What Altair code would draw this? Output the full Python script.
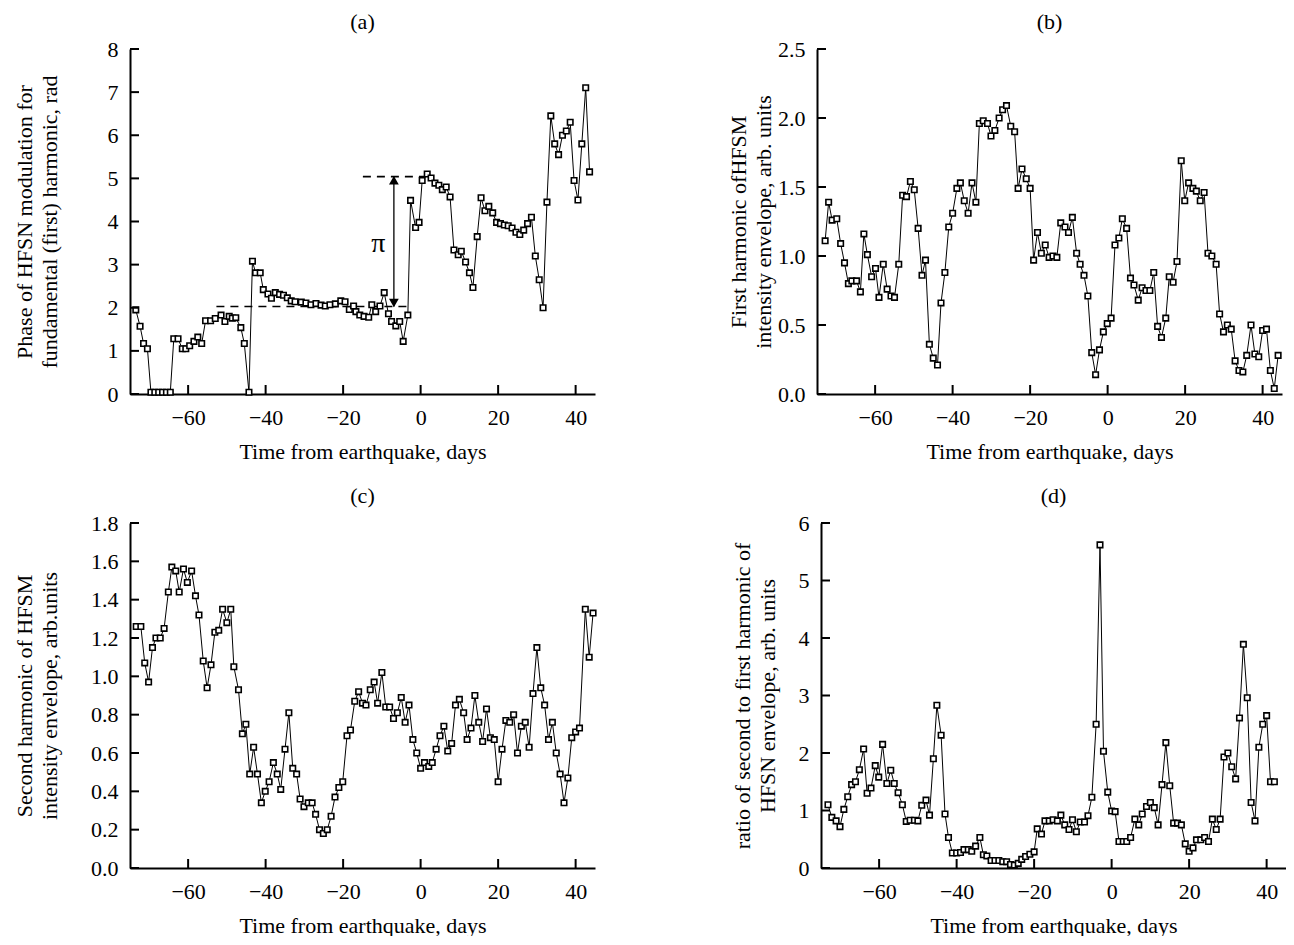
import altair as alt
import pandas as pd

FONT = "Liberation Serif"
FS = 22

X_TICKS = [-60, -40, -20, 0, 20, 40]
X_DOMAIN = [-75, 45]

# ---------------- (a) phase ----------------
a_day = [-73.5, -72.4, -71.5, -70.5, -69.6, -68.6, -67.6, -66.6, -65.6, -64.6,
         -63.7, -62.6, -61.5, -60.6, -59.6, -58.5, -57.5, -56.5, -55.5, -54.2,
         -53.0, -51.5, -50.5, -49.4, -48.6, -47.7, -46.4, -45.5, -44.3, -43.4,
         -42.6, -41.4, -40.6, -39.4, -38.5, -37.5, -36.4, -35.4, -34.4, -33.4,
         -32.4, -30.8, -29.6, -28.3, -27.0, -25.7, -24.6, -23.4, -22.0, -20.6,
         -19.5, -18.4, -17.3, -16.7, -15.7, -14.6, -13.4, -12.6, -11.6, -10.5,
         -9.4, -8.3, -7.5, -6.4, -5.4, -4.5, -3.3, -2.6, -1.3, -0.4,
         0.4, 1.7, 2.7, 3.7, 4.7, 5.6, 6.6, 7.6, 8.6, 9.7,
         10.5, 11.6, 12.6, 13.5, 14.6, 15.6, 16.6, 17.6, 18.6, 19.6,
         20.6, 21.6, 22.6, 23.6, 24.6, 25.6, 26.6, 27.6, 28.6, 29.6,
         30.6, 31.6, 32.6, 33.6, 34.6, 35.6, 36.6, 37.6, 38.6, 39.6,
         40.6, 41.6, 42.6, 43.6]
a_phase = [1.95, 1.57, 1.17, 1.05, 0.04, 0.04, 0.04, 0.04, 0.04, 0.04,
           1.28, 1.28, 1.05, 1.05, 1.12, 1.22, 1.32, 1.17, 1.70, 1.70,
           1.75, 1.83, 1.68, 1.80, 1.76, 1.77, 1.54, 1.17, 0.04, 3.08,
           2.81, 2.81, 2.42, 2.32, 2.22, 2.35, 2.31, 2.29, 2.23, 2.16,
           2.14, 2.13, 2.11, 2.07, 2.10, 2.06, 2.04, 2.07, 2.09, 2.16,
           2.14, 1.96, 2.04, 1.91, 1.83, 1.80, 1.78, 2.07, 1.91, 2.04,
           2.35, 1.86, 1.68, 1.58, 1.68, 1.22, 1.83, 4.49, 3.86, 3.98,
           4.95, 5.10, 5.01, 4.89, 4.84, 4.74, 4.80, 4.57, 3.34, 3.23,
           3.31, 3.06, 2.81, 2.47, 3.65, 4.55, 4.25, 4.35, 4.20, 3.98,
           3.95, 3.92, 3.90, 3.85, 3.75, 3.70, 3.80, 3.95, 4.10, 3.20,
           2.65, 2.00, 4.45, 6.45, 5.80, 5.55, 6.00, 6.10, 6.30, 4.95,
           4.50, 5.80, 7.10, 5.15]
a_dash_x1 = [-52.7, -14.9]
a_dash_x2 = [-2.5, 1.3]
a_dash_y = [2.03, 5.04]
a_arrow_x = [-6.9]
a_arrow_lo = [2.03]
a_arrow_hi = [5.04]
a_pi_x = [-10.9]
a_pi_y = [3.47]

# ---------------- (b) first harmonic ----------------
b_day = [-72.9, -72, -71.1, -69.9, -68.9, -67.9, -66.9, -66, -64.8, -63.8,
         -62.9, -62, -60.9, -59.9, -59, -57.9, -56.9, -55.9, -55, -53.9,
         -52.9, -51.9, -50.9, -49.9, -48.9, -47.9, -47, -46, -45, -43.9,
         -43, -42, -41, -40, -38.9, -38, -37, -36, -35, -34,
         -33.1, -32.1, -31, -30.1, -29.1, -28, -27.1, -26.1, -25, -24,
         -23.1, -22.1, -21, -20, -19.1, -18.1, -17.1, -16.1, -15.1, -14.1,
         -13.1, -12.1, -11, -10.1, -9.1, -8, -7.1, -6.1, -5.1, -4.1,
         -3.1, -2.1, -1.1, -0.1, 0.9, 1.9, 2.9, 3.8, 4.9, 5.9,
         6.8, 7.9, 8.9, 9.9, 10.9, 11.9, 12.9, 13.9, 15, 15.9,
         16.9, 17.9, 19, 19.9, 20.9, 22, 22.9, 23.9, 24.9, 25.9,
         26.9, 28, 28.9, 29.9, 30.9, 31.9, 32.9, 33.9, 34.9, 35.9,
         37, 38, 39, 40, 41, 42, 43, 44]
b_val = [1.11, 1.39, 1.26, 1.27, 1.09, 0.95, 0.80, 0.82, 0.82, 0.74,
         1.16, 1.01, 0.85, 0.91, 0.70, 0.94, 0.76, 0.71, 0.70, 0.94,
         1.44, 1.43, 1.54, 1.48, 1.20, 0.86, 0.97, 0.36, 0.26, 0.21,
         0.66, 0.88, 1.21, 1.31, 1.49, 1.53, 1.40, 1.31, 1.53, 1.39,
         1.96, 1.98, 1.96, 1.87, 1.91, 2.00, 2.06, 2.09, 1.94, 1.90,
         1.49, 1.63, 1.56, 1.49, 0.97, 1.17, 1.02, 1.08, 0.99, 1.00,
         0.99, 1.24, 1.21, 1.17, 1.28, 1.02, 0.94, 0.86, 0.71, 0.30,
         0.14, 0.32, 0.45, 0.51, 0.55, 1.08, 1.13, 1.27, 1.20, 0.84,
         0.79, 0.68, 0.77, 0.75, 0.75, 0.88, 0.49, 0.41, 0.55, 0.85,
         0.81, 0.96, 1.69, 1.40, 1.53, 1.49, 1.47, 1.40, 1.46, 1.02,
         1.00, 0.94, 0.58, 0.45, 0.50, 0.47, 0.24, 0.17, 0.16, 0.28,
         0.50, 0.29, 0.27, 0.46, 0.47, 0.17, 0.04, 0.28]

# ---------------- (c) second harmonic ----------------
c_day = [-73.4, -72.2, -71.2, -70.2, -69.2, -68.3, -67.2, -66.2, -65.1, -64.2,
         -63.2, -62.3, -61.2, -60.2, -59.1, -58.1, -57.2, -56.1, -55.1, -54.1,
         -53.1, -52.1, -51.1, -50, -49, -48.2, -47, -46, -45.1, -44.1,
         -43.1, -42.1, -41.1, -40.1, -39.1, -38, -37, -36.1, -35, -34,
         -33, -32, -31.1, -30.1, -29, -28, -27.1, -26.1, -25.1, -24.1,
         -23.1, -22.1, -21.1, -20.1, -19, -18.1, -17, -16, -15, -14.1,
         -13, -12, -11.1, -10, -9, -8, -7, -6, -5, -4,
         -3, -2, -1, 0, 1, 2.1, 3, 4, 5, 6,
         7, 8, 9, 10, 11.1, 12, 13, 14, 15, 16,
         17, 18, 19, 20, 21, 22, 23, 24, 25, 26,
         27, 28, 29, 30, 31, 32, 33, 34, 35, 36,
         37, 38, 39, 40, 41, 42.5, 43.5, 44.5]
c_val = [1.26, 1.26, 1.07, 0.97, 1.15, 1.20, 1.20, 1.25, 1.44, 1.57,
         1.55, 1.44, 1.56, 1.49, 1.55, 1.42, 1.32, 1.08, 0.94, 1.06,
         1.23, 1.24, 1.35, 1.28, 1.35, 1.05, 0.93, 0.70, 0.75, 0.49,
         0.63, 0.49, 0.34, 0.40, 0.45, 0.55, 0.49, 0.41, 0.62, 0.81,
         0.52, 0.49, 0.36, 0.32, 0.34, 0.34, 0.28, 0.20, 0.18, 0.20,
         0.27, 0.37, 0.42, 0.45, 0.69, 0.72, 0.87, 0.92, 0.86, 0.85,
         0.93, 0.97, 0.86, 1.02, 0.84, 0.84, 0.78, 0.81, 0.89, 0.76,
         0.85, 0.67, 0.60, 0.52, 0.55, 0.53, 0.55, 0.62, 0.69, 0.74,
         0.61, 0.65, 0.85, 0.88, 0.81, 0.67, 0.73, 0.90, 0.76, 0.66,
         0.83, 0.68, 0.67, 0.45, 0.62, 0.77, 0.76, 0.80, 0.60, 0.74,
         0.76, 0.63, 0.91, 1.15, 0.94, 0.85, 0.67, 0.76, 0.60, 0.49,
         0.34, 0.47, 0.68, 0.71, 0.73, 1.35, 1.10, 1.33]

# ---------------- (d) ratio ----------------
d_day = [-73.2, -72.2, -71.1, -70.1, -69.1, -68.1, -67.1, -66.1, -65.1, -64,
         -63.1, -62.1, -61, -60.1, -59.1, -58, -57, -56.1, -55.1, -54,
         -53, -52, -50.9, -50, -49, -47.9, -47, -46, -45.1, -44,
         -43, -42.1, -41.1, -40, -39, -38.1, -37, -36.1, -35.1, -34,
         -33.1, -32.2, -31.1, -30.1, -29.1, -28.1, -27.1, -26.1, -25.1, -24.1,
         -23.2, -22.2, -21.1, -20, -19.2, -18.1, -17.2, -16.1, -15.1, -14,
         -13.1, -12.1, -11, -10.1, -9.1, -8.1, -7, -6.1, -5.1, -4,
         -3, -2.1, -1, 0, 0.9, 1.9, 3, 3.9, 4.9, 6,
         7, 7.9, 9, 10, 11, 12, 13, 14, 15, 16,
         17, 18, 19, 20, 21, 21.9, 23, 24, 25, 26,
         27, 28, 29, 30, 31, 32, 33, 34, 35, 36,
         37, 38, 39, 40, 41, 42]
d_val = [1.10, 0.88, 0.82, 0.72, 1.02, 1.24, 1.45, 1.50, 1.71, 2.07,
         1.30, 1.39, 1.78, 1.58, 2.15, 1.47, 1.70, 1.47, 1.31, 1.10,
         0.81, 0.83, 0.83, 0.82, 1.09, 1.18, 0.92, 1.90, 2.83, 2.31,
         0.94, 0.53, 0.26, 0.26, 0.27, 0.32, 0.32, 0.29, 0.38, 0.53,
         0.23, 0.21, 0.13, 0.13, 0.13, 0.11, 0.11, 0.06, 0.05, 0.08,
         0.15, 0.20, 0.24, 0.28, 0.68, 0.59, 0.82, 0.82, 0.84, 0.82,
         0.92, 0.75, 0.67, 0.84, 0.63, 0.80, 0.80, 0.91, 1.23, 2.50,
         5.62, 2.03, 1.32, 0.99, 0.98, 0.46, 0.46, 0.46, 0.53, 0.85,
         0.75, 0.94, 1.07, 1.14, 1.05, 0.75, 1.45, 2.18, 1.43, 0.78,
         0.78, 0.75, 0.42, 0.29, 0.35, 0.49, 0.49, 0.53, 0.46, 0.85,
         0.67, 0.85, 1.93, 2.00, 1.76, 1.55, 2.61, 3.89, 2.96, 1.14,
         0.82, 2.10, 2.50, 2.65, 1.50, 1.50]

W = 465
H = 345


def panel(days, vals, ydomain, yticks, yfmt, ytitle, ptitle, titlex, extra=None):
    df = pd.DataFrame({"day": days, "val": vals})
    xs = alt.Scale(domain=X_DOMAIN, nice=False, zero=False)
    ys = alt.Scale(domain=ydomain, nice=False, zero=False)
    xaxis = alt.Axis(values=X_TICKS, tickCount=len(X_TICKS),
                     title="Time from earthquake, days",
                     labelPadding=13, titlePadding=13, labelOverlap=False)
    yaxis = alt.Axis(values=yticks, tickCount=len(yticks), format=yfmt, title=ytitle,
                     titleX=titlex, titleY=H / 2, titleAngle=270,
                     titleAlign="center", titleBaseline="top",
                     titleLineHeight=25, labelPadding=12,
                     labelOverlap=False, labelSeparation=0)
    base = alt.Chart(df).encode(
        x=alt.X("day:Q", scale=xs, axis=xaxis),
        y=alt.Y("val:Q", scale=ys, axis=yaxis),
    )
    line = base.mark_line(color="black", strokeWidth=1)
    pts = base.mark_point(shape="square", filled=True, fill="white",
                          stroke="black", strokeWidth=1.6, size=30, opacity=1)
    # inward tick marks, placed through the same scales (same field names)
    ytk = alt.Chart(pd.DataFrame({"val": yticks})).mark_rule(
        color="black", strokeWidth=2).encode(
        y=alt.Y("val:Q"), x=alt.value(0), x2=alt.value(9))
    xtk = alt.Chart(pd.DataFrame({"day": X_TICKS})).mark_rule(
        color="black", strokeWidth=2).encode(
        x=alt.X("day:Q"), y=alt.value(H), y2=alt.value(H - 9))
    layers = [line] + (extra() if extra else []) + [pts, ytk, xtk]
    return alt.layer(*layers).properties(
        width=W, height=H, title=alt.TitleParams(ptitle, frame="group"))


def a_extra():
    dash = alt.Chart(pd.DataFrame({"day": a_dash_x1, "day2": a_dash_x2, "val": a_dash_y})).mark_rule(
        color="black", strokeWidth=1.6, strokeDash=[8, 6]).encode(
        x=alt.X("day:Q"), x2="day2:Q", y=alt.Y("val:Q"))
    adf = pd.DataFrame({"day": a_arrow_x, "val": a_arrow_lo, "val2": a_arrow_hi})
    shaft = alt.Chart(adf).mark_rule(color="black", strokeWidth=1.3).encode(
        x=alt.X("day:Q"), y=alt.Y("val:Q"), y2="val2:Q")
    up_df = pd.DataFrame({"day": a_arrow_x, "val": a_arrow_hi})
    dn_df = pd.DataFrame({"day": a_arrow_x, "val": a_arrow_lo})
    head_up = alt.Chart(up_df).mark_point(shape="triangle-up", filled=True, fill="black",
                                          stroke="black", size=40, opacity=1, yOffset=4).encode(
        x=alt.X("day:Q"), y=alt.Y("val:Q"))
    head_dn = alt.Chart(dn_df).mark_point(shape="triangle-down", filled=True, fill="black",
                                          stroke="black", size=40, opacity=1, yOffset=-4).encode(
        x=alt.X("day:Q"), y=alt.Y("val:Q"))
    pi = alt.Chart(pd.DataFrame({"day": a_pi_x, "val": a_pi_y, "t": ["π"]})).mark_text(
        font=FONT, fontSize=28, fill="black", color="black").encode(
        x=alt.X("day:Q"), y=alt.Y("val:Q"), text="t:N")
    return [dash, shaft, head_up, head_dn, pi]


LEFT_TX = -116
RIGHT_TX = -89

pa = panel(a_day, a_phase, [0, 8], list(range(0, 9)), "d",
           ["Phase of HFSN modulation for", "fundamental (first) harmonic, rad"],
           "(a)", LEFT_TX, a_extra)
pb = panel(b_day, b_val, [0, 2.5], [0, 0.5, 1.0, 1.5, 2.0, 2.5], ".1f",
           ["First harmonic ofHFSM", "intensity envelope, arb. units"],
           "(b)", RIGHT_TX)
pc = panel(c_day, c_val, [0, 1.8], [round(0.2 * i, 1) for i in range(10)], ".1f",
           ["Second harmonic of HFSM", "intensity envelope, arb.units"],
           "(c)", LEFT_TX)
pd_ = panel(d_day, d_val, [0, 6], list(range(0, 7)), "d",
            ["ratio of second to first harmonic of", "HFSN envelope, arb. units"],
            "(d)", RIGHT_TX)

row1 = alt.hconcat(pa, pb, spacing=131)
row2 = alt.hconcat(pc, pd_, spacing=131)

chart = alt.vconcat(row1, row2, spacing=23).properties(
    padding={"left": 5, "top": 3, "right": 0, "bottom": 0}
).configure_axis(
    domainColor="black", domainWidth=2, ticks=False, tickSize=0, grid=False,
    labelFont=FONT, labelFontSize=FS, labelColor="black",
    labelOverlap=False, labelSeparation=0,
    titleFont=FONT, titleFontSize=FS, titleFontWeight="normal", titleColor="black",
).configure_view(stroke=None).configure_title(
    font=FONT, fontSize=FS, fontWeight="normal", color="black",
    anchor="middle", offset=0,
).configure_concat(spacing=131)

chart.save("out.html", embed_options={"renderer": "svg", "actions": False})
